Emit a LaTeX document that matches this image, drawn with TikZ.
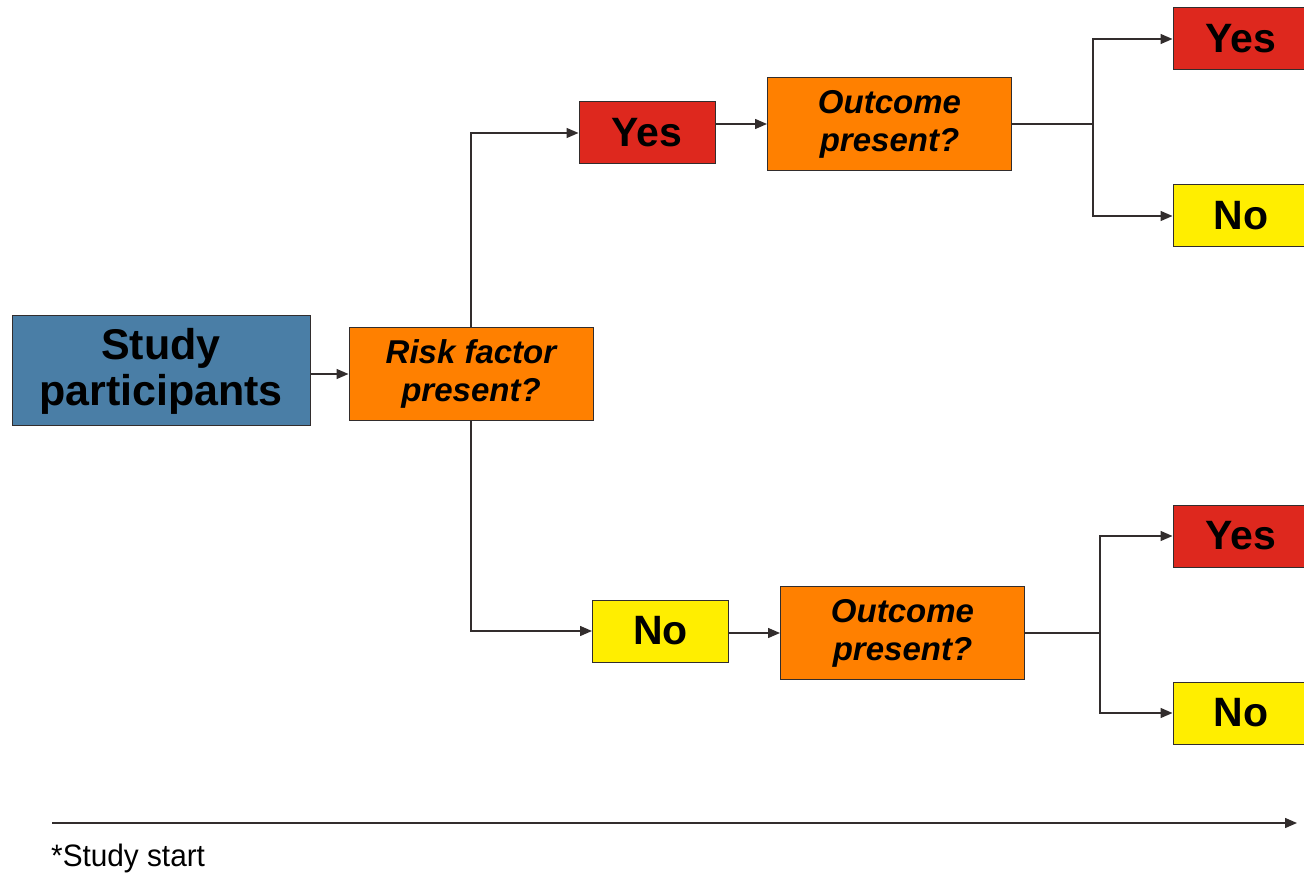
\documentclass[tikz,border=0pt]{standalone}
\usepackage{fontspec}
\setmainfont{Liberation Sans}
\usetikzlibrary{arrows.meta,calc}
\definecolor{cblue}{RGB}{74,126,166}
\definecolor{corange}{RGB}{255,128,0}
\definecolor{cred}{RGB}{222,40,30}
\definecolor{cyellow}{RGB}{255,238,0}
\definecolor{cline}{RGB}{50,45,45}
\begin{document}
\begin{tikzpicture}[x=1pt,y=-1pt,
  box/.style={draw=cline,line width=1pt,inner sep=0pt,align=center,text=black},
  bigbox/.style={box,fill=cblue,minimum width=298pt,minimum height=110pt,font=\fontsize{43}{46}\selectfont\bfseries},
  qbox/.style={box,fill=corange,minimum width=244pt,minimum height=93pt,font=\fontsize{33}{38}\selectfont\bfseries\itshape},
  ansbox/.style={box,minimum width=136pt,minimum height=62pt,font=\fontsize{41}{46}\selectfont\bfseries},
  yesbox/.style={ansbox,fill=cred},
  nobox/.style={ansbox,fill=cyellow},
  conn/.style={draw=cline,line width=1.4pt},
  arr/.style={conn,-{Triangle[length=12pt,width=10pt]}}]
\useasboundingbox (0,0) rectangle (1304,874);
\begin{scope}
\clip (0,0) rectangle (1304,874);
\node[bigbox] (sp) at (161,371) {Study\\participants};
\node[qbox] (rf) at (471,374) {Risk factor\\present?};
\node[yesbox] (y1) at (647,133) {Yes};
\node[nobox] (n1) at (660.5,631) {No};
\node[qbox] (o1) at (889.5,124) {Outcome\\present?};
\node[qbox] (o2) at (902.5,633) {Outcome\\present?};
\node[yesbox] (y11) at (1241,39) {Yes};
\node[nobox] (n11) at (1241,216) {No};
\node[yesbox] (y21) at (1241,536) {Yes};
\node[nobox] (n21) at (1241,713) {No};
\coordinate (b1) at ($(o1.east)+(81,0)$);
\coordinate (b2) at ($(o2.east)+(75,0)$);
\coordinate (t0) at (52,823);
\coordinate (t1) at (1297,823);
\draw[arr] (sp.east |- rf.west) -- (rf.west);
\draw[arr] (rf.north) |- (y1.west);
\draw[arr] (rf.south) |- (n1.west);
\draw[arr] (y1.east |- o1.west) -- (o1.west);
\draw[arr] (n1.east |- o2.west) -- (o2.west);
\draw[conn] (o1.east) -- (b1);
\draw[arr] (b1) |- (y11.west);
\draw[arr] (b1) |- (n11.west);
\draw[conn] (o2.east) -- (b2);
\draw[arr] (b2) |- (y21.west);
\draw[arr] (b2) |- (n21.west);
\draw[arr] (t0) -- (t1);
\node[anchor=base west,inner sep=0pt,font=\fontsize{31}{34}\selectfont] (ss) at (51,866) {\scalebox{0.96}[1]{*Study start}};
\end{scope}
\end{tikzpicture}
\end{document}
